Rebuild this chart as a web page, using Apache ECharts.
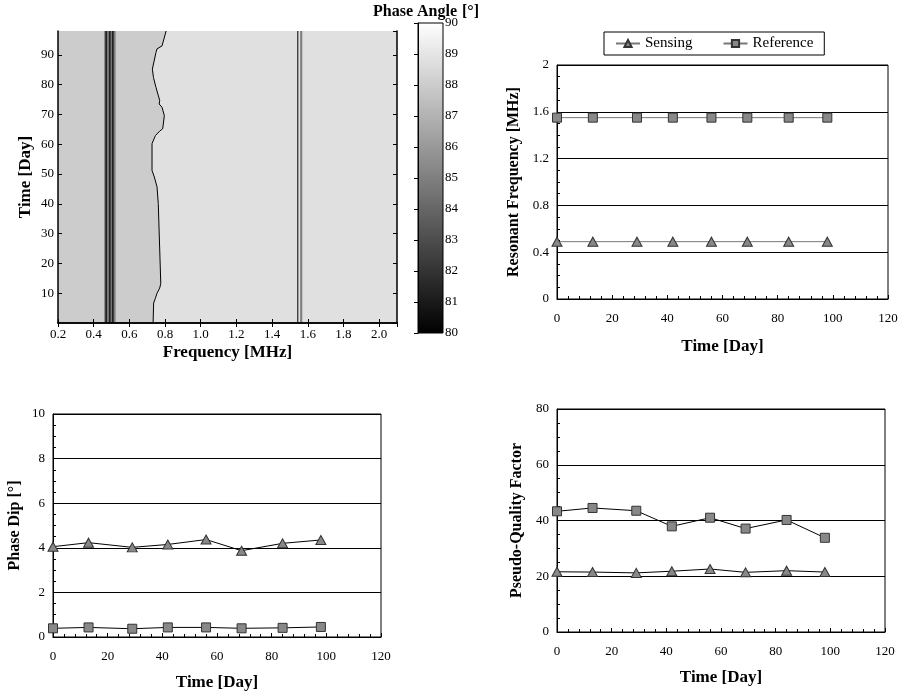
<!DOCTYPE html>
<html><head><meta charset="utf-8">
<script src="https://cdn.jsdelivr.net/npm/echarts@6/dist/echarts.min.js"></script>
<style>html,body{margin:0;padding:0;background:#fff}#main{width:901px;height:696px}</style>
</head><body><div id="main"></div>
<script>
// ---------- data ----------
const days = [0, 13, 29, 42, 56, 69, 84, 98];
const resFreqSensing   = [0.49, 0.49, 0.49, 0.49, 0.49, 0.49, 0.49, 0.49];
const resFreqReference = [1.55, 1.55, 1.55, 1.55, 1.55, 1.55, 1.55, 1.55];
const phaseDipSensing   = [4.05, 4.23, 4.02, 4.15, 4.37, 3.87, 4.20, 4.35];
const phaseDipReference = [0.39, 0.43, 0.37, 0.43, 0.43, 0.39, 0.41, 0.45];
const qSensing   = [21.6, 21.5, 21.2, 21.8, 22.6, 21.4, 22.0, 21.5];
const qReference = [43.3, 44.5, 43.5, 37.9, 41.0, 37.1, 40.2, 33.8];

// contour map: frequency (MHz) x time (day) of phase angle (deg)
const freqRange = [0.2, 2.1];
const dayRange = [0, 98];
const freqTicks = [0.2, 0.4, 0.6, 0.8, 1.0, 1.2, 1.4, 1.6, 1.8, 2.0];
const dayTicks = [10, 20, 30, 40, 50, 60, 70, 80, 90];
const colorbarTicks = [80, 81, 82, 83, 84, 85, 86, 87, 88, 89, 90];
// boundary between the 88 deg and 88.8 deg regions
const boundaryDay  = [0, 6.7, 8.3, 10, 11.7, 13.3, 40.1, 45.7, 49, 51.2, 52.3, 60.2, 62.9, 64.4, 65.2, 69.6, 72.4, 73.5, 74.7, 79.1, 82.4, 85.2, 90.8, 92, 93, 98];
const boundaryFreq = [0.733, 0.736, 0.746, 0.755, 0.770, 0.776, 0.762, 0.755, 0.740, 0.727, 0.727, 0.727, 0.746, 0.770, 0.787, 0.796, 0.783, 0.767, 0.770, 0.749, 0.735, 0.729, 0.749, 0.755, 0.783, 0.806];
const regionLevels = [88, 88.8];          // left / right of boundary
const dipBandFreq = [0.459, 0.523];       // sensing dip band
const dipBandLevel = 85;
const dipLineFreqs = [0.470, 0.490, 0.507];
const refLineFreq = 1.544;
const refBandFreq = 1.563;
const refBandLevel = 85;

// ---------- helpers ----------
const FONT = "'Liberation Serif','Times New Roman',serif";
function grey(v) {
  const g = Math.round((v - 80) / 10 * 255);
  return 'rgb(' + g + ',' + g + ',' + g + ')';
}
const lbl = {color: '#000', fontFamily: FONT, fontSize: 13};
function nameSt(size) { return {color: '#000', fontFamily: FONT, fontSize: size, fontWeight: 'bold'}; }

function renderContour(params, api) {
  const c = (f, d) => api.coord([f, d]);
  const children = [];
  const tl = c(freqRange[0], dayRange[1]);
  const br = c(freqRange[1], dayRange[0]);
  children.push({type: 'rect', shape: {x: tl[0], y: tl[1], width: br[0] - tl[0], height: br[1] - tl[1]}, style: {fill: grey(regionLevels[0])}});
  const bpts = boundaryDay.map((d, i) => c(boundaryFreq[i], d));
  const poly = bpts.slice();
  poly.push(c(freqRange[1], dayRange[1]));
  poly.push(c(freqRange[1], dayRange[0]));
  children.push({type: 'polygon', shape: {points: poly}, style: {fill: grey(regionLevels[1])}});
  children.push({type: 'polyline', shape: {points: bpts}, style: {stroke: '#000', lineWidth: 1, fill: null}});
  // dip band
  const a = c(dipBandFreq[0], dayRange[1]);
  const b = c(dipBandFreq[1], dayRange[0]);
  children.push({type: 'rect', shape: {x: a[0], y: a[1], width: b[0] - a[0], height: b[1] - a[1]}, style: {fill: grey(dipBandLevel)}});
  dipLineFreqs.forEach(f => {
    const p = c(f, dayRange[1]), q = c(f, dayRange[0]);
    children.push({type: 'line', shape: {x1: p[0], y1: p[1], x2: q[0], y2: q[1]}, style: {stroke: '#222', lineWidth: 1.8}});
  });
  // reference line
  let p = c(refLineFreq, dayRange[1]), q = c(refLineFreq, dayRange[0]);
  children.push({type: 'line', shape: {x1: p[0], y1: p[1], x2: q[0], y2: q[1]}, style: {stroke: '#000', lineWidth: 1}});
  p = c(refBandFreq, dayRange[1]); q = c(refBandFreq, dayRange[0]);
  children.push({type: 'line', shape: {x1: p[0], y1: p[1], x2: q[0], y2: q[1]}, style: {stroke: grey(refBandLevel), lineWidth: 2.2}});
  return {type: 'group', children};
}

function renderColorbar(params, api) {
  const t = api.coord([0, colorbarTicks[colorbarTicks.length - 1]]);
  const b = api.coord([1, colorbarTicks[0]]);
  return {type: 'rect', shape: {x: t[0], y: t[1], width: b[0] - t[0], height: b[1] - t[1]},
    style: {stroke: '#000', lineWidth: 1,
      fill: new echarts.graphic.LinearGradient(0, 0, 0, 1, [{offset: 0, color: grey(90)}, {offset: 1, color: grey(80)}])}};
}

function timeAxis(gridIndex, nameGap) {
  return {type: 'value', gridIndex, min: 0, max: 120, interval: 20,
    name: 'Time [Day]', nameLocation: 'middle', nameGap, nameTextStyle: nameSt(17),
    axisLine: {show: true, onZero: false, lineStyle: {color: '#000', width: 1}},
    axisTick: {show: true, inside: true, length: 4, lineStyle: {color: '#000'}},
    minorTick: {show: true, splitNumber: 5, length: 3, lineStyle: {color: '#000'}},
    axisLabel: Object.assign({margin: 13}, lbl),
    splitLine: {show: false}};
}
function valAxis(gridIndex, min, max, interval, minorSplit, name, nameGap) {
  return {type: 'value', gridIndex, min, max, interval,
    name, nameLocation: 'middle', nameGap, nameTextStyle: nameSt(16),
    axisLine: {show: true, onZero: false, lineStyle: {color: '#000', width: 1}},
    axisTick: {show: true, inside: true, length: 4, lineStyle: {color: '#000'}},
    minorTick: {show: true, splitNumber: minorSplit, length: 3, lineStyle: {color: '#000'}},
    axisLabel: Object.assign({margin: 8}, lbl),
    splitLine: {show: true, lineStyle: {color: '#000', width: 1}}};
}
function lineSeries(name, sym, xi, yi, vals, lineColor) {
  return {type: 'line', name, xAxisIndex: xi, yAxisIndex: yi,
    data: days.map((d, i) => [d, vals[i]]),
    symbol: sym, symbolSize: sym === 'triangle' ? [10, 9] : 9,
    itemStyle: {color: '#888', borderColor: '#333', borderWidth: 1},
    lineStyle: {color: lineColor, width: 1}, animation: false, z: 3};
}

const gridBox = {show: true, borderColor: '#000', borderWidth: 1, backgroundColor: 'transparent', containLabel: false};

const option = {
  animation: false,
  backgroundColor: '#fff',
  title: {text: '{b|Phase Angle} {r|[°]}', left: 373, top: 3, padding: 0,
    textStyle: {rich: {b: {fontFamily: FONT, fontSize: 16, fontWeight: 'bold', color: '#000'},
                       r: {fontFamily: FONT, fontSize: 16, color: '#000'}}}},
  legend: {data: ['Sensing', 'Reference'], left: 604, top: 32, orient: 'horizontal',
    borderColor: '#000', borderWidth: 1, padding: [4, 11, 4, 11], itemGap: 30,
    itemWidth: 24, itemHeight: 9, backgroundColor: '#fff',
    textStyle: {fontFamily: FONT, fontSize: 15, color: '#000'}},
  grid: [
    {left: 58, top: 31, width: 339, height: 292},
    {left: 418, top: 23, width: 25, height: 310},
    Object.assign({left: 557, top: 65, width: 331, height: 234}, gridBox),
    Object.assign({left: 53, top: 414, width: 328, height: 223}, gridBox),
    Object.assign({left: 557, top: 409, width: 328, height: 223}, gridBox)
  ],
  xAxis: [
    {type: 'value', gridIndex: 0, min: freqRange[0], max: freqRange[1], interval: 0.2, z: 10,
      name: 'Frequency [MHz]', nameLocation: 'middle', nameGap: 21, nameTextStyle: nameSt(17),
      axisLine: {lineStyle: {color: '#000', width: 1.5}},
      axisTick: {inside: true, length: 4, lineStyle: {color: '#000'}},
      axisLabel: Object.assign({margin: 5, showMaxLabel: false,
        formatter: v => freqTicks.some(t => Math.abs(t - v) < 1e-6) ? v.toFixed(1) : ''}, lbl),
      splitLine: {show: false}},
    {type: 'value', gridIndex: 0, position: 'top', min: freqRange[0], max: freqRange[1], interval: 0.2, z: 10,
      axisLine: {lineStyle: {color: '#000', width: 1.5}},
      axisTick: {inside: true, length: 4, lineStyle: {color: '#000'}},
      axisLabel: {show: false}, splitLine: {show: false}},
    {type: 'value', gridIndex: 1, min: 0, max: 1, show: false},
    timeAxis(2, 39),
    timeAxis(3, 37),
    timeAxis(4, 37)
  ],
  yAxis: [
    {type: 'value', gridIndex: 0, min: dayRange[0], max: dayRange[1], interval: 10, z: 10,
      name: 'Time [Day]', nameLocation: 'middle', nameGap: 24, nameTextStyle: nameSt(17),
      axisLine: {lineStyle: {color: '#000', width: 1.5}},
      axisTick: {inside: true, length: 4, lineStyle: {color: '#000'}},
      axisLabel: Object.assign({margin: 4, showMinLabel: false, showMaxLabel: false,
        formatter: v => dayTicks.indexOf(v) >= 0 ? String(v) : ''}, lbl),
      splitLine: {show: false}},
    {type: 'value', gridIndex: 0, position: 'right', min: dayRange[0], max: dayRange[1], interval: 10, z: 10,
      axisLine: {lineStyle: {color: '#000', width: 1.5}},
      axisTick: {inside: true, length: 4, lineStyle: {color: '#000'}},
      axisLabel: {show: false}, splitLine: {show: false}},
    {type: 'value', gridIndex: 1, position: 'right', min: colorbarTicks[0], max: colorbarTicks[colorbarTicks.length - 1], interval: 1, z: 10,
      axisLine: {show: true, lineStyle: {color: '#000', width: 1}},
      axisTick: {show: true, inside: true, length: 4, lineStyle: {color: '#000'}},
      axisLabel: Object.assign({margin: 2}, lbl), splitLine: {show: false}},
    valAxis(2, 0, 2, 0.4, 4, 'Resonant Frequency [MHz]', 35),
    valAxis(3, 0, 10, 2, 4, 'Phase Dip [°]', 30),
    valAxis(4, 0, 80, 20, 4, 'Pseudo-Quality Factor', 32)
  ],
  series: [
    {type: 'custom', xAxisIndex: 0, yAxisIndex: 0, data: [[freqRange[0], dayRange[0]]], renderItem: renderContour, silent: true, z: 1},
    {type: 'custom', xAxisIndex: 2, yAxisIndex: 2, data: [[0, colorbarTicks[0]]], renderItem: renderColorbar, silent: true, z: 1},
    lineSeries('Sensing', 'triangle', 3, 3, resFreqSensing, '#777'),
    lineSeries('Reference', 'rect', 3, 3, resFreqReference, '#777'),
    lineSeries('Sensing', 'triangle', 4, 4, phaseDipSensing, '#000'),
    lineSeries('Reference', 'rect', 4, 4, phaseDipReference, '#000'),
    lineSeries('Sensing', 'triangle', 5, 5, qSensing, '#000'),
    lineSeries('Reference', 'rect', 5, 5, qReference, '#000')
  ]
};
const chart = echarts.init(document.getElementById('main'), null, {renderer: 'canvas'});
chart.setOption(option);
</script>
</body></html>
